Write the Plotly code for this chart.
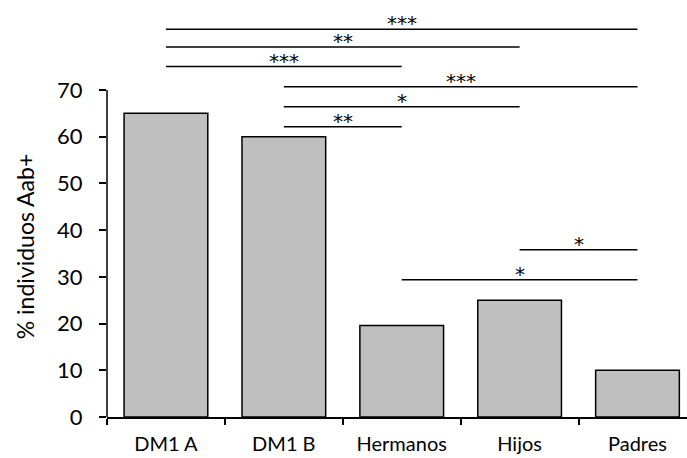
import plotly.graph_objects as go

categories = ["DM1 A", "DM1 B", "Hermanos", "Hijos", "Padres"]
values = [65, 60, 19.6, 25, 10]

sig_from = ["DM1 A", "DM1 A", "DM1 A", "DM1 B", "DM1 B", "DM1 B", "Hermanos", "Hijos"]
sig_to = ["Padres", "Hijos", "Hermanos", "Padres", "Hijos", "Hermanos", "Padres", "Padres"]
sig_level = [83.0, 79.2, 75.0, 70.7, 66.4, 62.1, 29.4, 35.8]
sig_label = ["***", "**", "***", "***", "*", "**", "*", "*"]

y_ticks = [0, 10, 20, 30, 40, 50, 60, 70]
y_title = "% individuos Aab+"

FONT = "Lato"

fig = go.Figure()
fig.add_trace(go.Bar(
    x=categories, y=values,
    marker=dict(color="#BFBFBF", line=dict(color="black", width=1.5)),
    showlegend=False,
))

for a, b, lvl, lab in zip(sig_from, sig_to, sig_level, sig_label):
    fig.add_trace(go.Scatter(
        x=[a, b], y=[lvl, lvl], mode="lines",
        line=dict(color="black", width=1.5), showlegend=False, hoverinfo="skip",
    ))
    mid = (categories.index(a) + categories.index(b)) / 2
    fig.add_annotation(
        x=mid, y=lvl, xref="x", yref="y", text=lab, showarrow=False,
        yanchor="bottom", yshift=-8,
        font=dict(family="DejaVu Sans", size=20, color="black"),
    )

# y-axis line only from 0 to 70
fig.add_shape(type="line", xref="paper", yref="y", x0=0, x1=0, y0=0, y1=70,
              line=dict(color="black", width=1.5))

# y-axis title
fig.add_annotation(
    text=y_title, textangle=-90, showarrow=False,
    xref="paper", yref="paper", x=-0.141, y=0.41, xanchor="center", yanchor="middle",
    font=dict(family=FONT, size=23, color="black"),
)

fig.update_layout(
    width=687, height=458,
    margin=dict(l=107, r=0, t=0, b=41),
    paper_bgcolor="white", plot_bgcolor="white",
    bargap=0.29,
    font=dict(family=FONT, color="black"),
    xaxis=dict(
        type="category", range=[-0.5, 4.42], automargin=False,
        showline=True, linecolor="black", linewidth=1.5,
        ticks="outside", tickson="boundaries", ticklen=6, tickwidth=1.5, tickcolor="black",
        ticklabelstandoff=8,
        tickfont=dict(family=FONT, size=20, color="black"),
        showgrid=False, zeroline=False,
    ),
    yaxis=dict(
        range=[0, 89.25], tickvals=y_ticks, automargin=False,
        showline=False, ticks="outside", ticklen=7, tickwidth=1.5, tickcolor="black",
        ticklabelstandoff=12,
        tickfont=dict(family=FONT, size=22, color="black"),
        showgrid=False, zeroline=False,
    ),
)

fig.write_html(
    "out.html",
    config={"displayModeBar": False},
    post_script="document.body.style.margin='0';document.body.style.overflow='hidden';",
)
